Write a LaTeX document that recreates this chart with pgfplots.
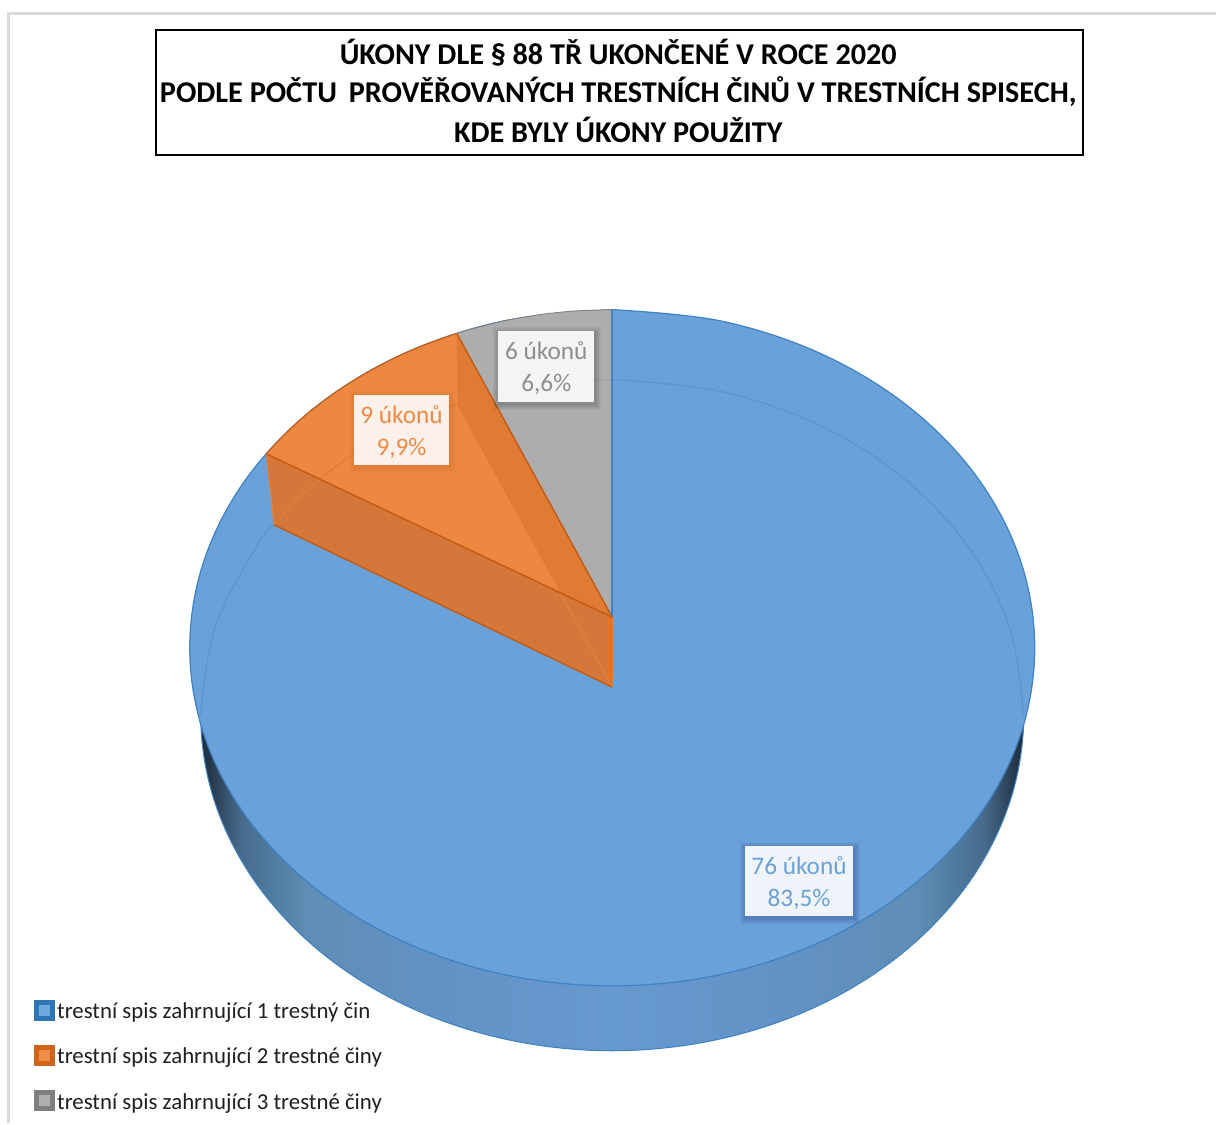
\documentclass[border=0pt]{standalone}
\usepackage{pgfplots}
\pgfplotsset{compat=1.18}
\usepackage{fontspec}
\setmainfont{Carlito}
\definecolor{bluetop}{HTML}{6AA1D8}
\definecolor{blueedge}{HTML}{3F83C4}
\definecolor{bluefaint}{HTML}{5B96D2}
\definecolor{orbright}{HTML}{EC8842}
\definecolor{orright}{HTML}{DF7B33}
\definecolor{orleft}{HTML}{D4773A}
\definecolor{oredge}{HTML}{C55A11}
\definecolor{orfaint}{HTML}{E08238}
\definecolor{graytop}{HTML}{ADADAD}
\definecolor{sa}{HTML}{1A2A3A}\definecolor{sb}{HTML}{2B4055}\definecolor{sc}{HTML}{47698A}
\definecolor{sd}{HTML}{4F7BA0}\definecolor{se}{HTML}{5F8DB5}\definecolor{sf}{HTML}{6393C6}\definecolor{sg}{HTML}{6699CF}
\definecolor{lblue}{HTML}{6BA1D7}\definecolor{lblueb}{HTML}{EFF4FB}
\definecolor{lor}{HTML}{EE8A45}\definecolor{lorb}{HTML}{FCF1EA}
\definecolor{lgr}{HTML}{8E8E8E}\definecolor{lgrb}{HTML}{F4F4F4}
\definecolor{mb}{HTML}{2E75B6}\definecolor{mbi}{HTML}{6FA8DC}
\definecolor{mo}{HTML}{D0651A}\definecolor{moi}{HTML}{F08C45}
\definecolor{mg}{HTML}{7F7F7F}\definecolor{mgi}{HTML}{B0B0B0}
\pgfdeclarehorizontalshading{pieside}{100bp}{
 color(0bp)=(sa); color(25bp)=(sa); color(25.85bp)=(sb); color(27.35bp)=(sc);
 color(29.25bp)=(sd); color(31.5bp)=(se); color(40bp)=(sf); color(50bp)=(sg);
 color(60bp)=(sf); color(68.5bp)=(se); color(70.75bp)=(sd); color(72.65bp)=(sc);
 color(74.15bp)=(sb); color(75bp)=(sa); color(100bp)=(sa)}
\newcommand{\softlayer}[6]{\path[fill=#5, fill opacity=0.035]
   (axis cs:#1-#6+1,#2-#6+2) rectangle (axis cs:#3+#6+1,#4+#6+2);}
\newcommand{\softshadow}[5]{%
 \softlayer{#1}{#2}{#3}{#4}{#5}{1}\softlayer{#1}{#2}{#3}{#4}{#5}{2}%
 \softlayer{#1}{#2}{#3}{#4}{#5}{3}\softlayer{#1}{#2}{#3}{#4}{#5}{4}%
 \softlayer{#1}{#2}{#3}{#4}{#5}{5}\softlayer{#1}{#2}{#3}{#4}{#5}{6}}
\tikzset{
 titleline/.style={font=\fontsize{8.6}{9}\selectfont\bfseries, text=black, inner sep=0pt, anchor=base},
 dlabel/.style={font=\fontsize{7.2}{9.1}\selectfont, align=center, inner sep=0pt, anchor=center},
 legtext/.style={font=\fontsize{6.5}{7}\selectfont, text=black!88, inner sep=0pt, anchor=base west}
}
\begin{document}
\begin{tikzpicture}
\begin{axis}[
  scale only axis, width=12.17cm, height=11.24cm,
  xmin=0, xmax=1217, ymin=0, ymax=1124, y dir=reverse,
  hide axis, clip=false]
% page background and frame
\addplot[draw=none, fill=white] coordinates {(0,0)(1217,0)(1217,1124)(0,1124)} -- cycle;
\addplot[draw=black!15, line width=0.85pt] coordinates {(9,1124)(9,14)(1217,14)};
% side of the pie (lower rim)
\addplot[smooth, tension=0.6, shading=pieside, draw=blueedge, line width=0.3pt] coordinates {
(613,380)(719.6,391.5)(819,425)(904.3,478.4)(969.8,548)(1011,629)(1025,716)(1011,803)(969.8,884)(904.3,953.6)(819,1007)(719.6,1040.5)(613,1052)(506.4,1040.5)(407,1007)(321.7,953.6)(256.2,884)(215,803)(201,716)(215,629)(256.2,548)(321.7,478.4)(407,425)(506.4,391.5)(613,380)};
% top face: first category, 76 ukonu
\addplot[smooth, tension=0.6, fill=bluetop, draw=blueedge, line width=0.35pt] coordinates {
(613,310)(722.5,321.5)(824.5,355.3)(912.1,409.1)(979.3,479.2)(1021.6,560.9)(1036,648.5)(1021.6,736.1)(979.3,817.8)(912.1,887.9)(824.5,941.7)(722.5,975.5)(613,987)(503.5,975.5)(401.5,941.7)(313.9,887.9)(246.7,817.8)(204.4,736.1)(190,648.5)(204.4,560.9)(246.7,479.2)(313.9,409.1)(401.5,355.3)(503.5,321.5)(613,310)};
% faint rim seen through the top face
\addplot[smooth, tension=0.6, draw=bluefaint, line width=0.35pt] coordinates {
(613,380)(719.6,391.5)(819,425)(904.3,478.4)(969.8,548)(1011,629)(1025,716)};
\addplot[smooth, tension=0.6, draw=bluefaint, line width=0.35pt] coordinates {
(274.5,525)(256.2,548)(215,629)(201,716)};
% third category, 6 ukonu
\addplot[fill=graytop, draw=none] coordinates {
(613,310)(576.1,311.3)(539.6,315.1)(503.5,321.5)(468.3,330.4)(457.3,333.8)(613,618)} -- cycle;
\addplot[smooth, draw=black!50, line width=0.25pt] coordinates {(613,310)(576.1,311.3)(539.6,315.1)(503.5,321.5)(468.3,330.4)(457.3,333.8)};
\addplot[smooth, draw=black!38, line width=0.25pt] coordinates {(613,380)(560,383)(506.4,391.5)(460,404)};
% second category, 9 ukonu
\addplot[fill=orbright, draw=none] coordinates {
(457.3,333.8)(427.6,344.3)(401.5,355.3)(376.5,367.9)(352.6,381.8)(330,397)(308.7,413.3)(289,430.9)(266.5,454.3)(613,618)} -- cycle;
\addplot[smooth, draw=oredge, line width=0.3pt] coordinates {
(457.3,333.8)(427.6,344.3)(401.5,355.3)(376.5,367.9)(352.6,381.8)(330,397)(308.7,413.3)(289,430.9)(266.5,454.3)};
\addplot[smooth, tension=0.6, draw=orright, line width=0.3pt] coordinates {(460,404)(407,425)(348.2,458.6)(297.4,500)(274.5,525)};
% cut faces of the second category
\addplot[fill=orright, draw=none] coordinates {(457.3,333.8)(613,618)(613,688)(458,406)} -- cycle;
\addplot[fill=orleft, draw=none] coordinates {(266.5,454.3)(613,618)(613,688)(274.5,525.5)} -- cycle;
\addplot[draw=orfaint, line width=0.3pt] coordinates {(274.5,525.5)(297.4,500)(320,480)};
\addplot[draw=orfaint, line width=0.3pt] coordinates {(560,592)(613,688)};
\addplot[draw=orfaint, line width=0.3pt] coordinates {(266.5,454.3)(274.5,525.5)};
\addplot[draw=oredge, line width=0.4pt] coordinates {(457.3,333.8)(613,618)};
\addplot[draw=oredge, line width=0.4pt] coordinates {(266.5,454.3)(613,618)};
\addplot[draw=oredge, line width=0.4pt] coordinates {(274.5,525.5)(613,688)};
\addplot[draw=orright, line width=0.4pt] coordinates {(613,618)(613,688)};
\addplot[draw=blueedge, line width=0.5pt] coordinates {(613,310)(613,618)};
% data labels
\softshadow{746}{847}{854}{917}{black!70!blue}
\softshadow{354}{395}{450}{466}{oredge}
\softshadow{499}{331}{595}{402}{black}
\path[fill=lblueb] (axis cs:746,847) rectangle (axis cs:854,917);
\path[fill=lorb] (axis cs:354,395) rectangle (axis cs:450,466);
\path[fill=lgrb] (axis cs:499,331) rectangle (axis cs:595,402);
\node[dlabel, text=lblue] at (axis cs:800,884) {76 úkonů\\83,5\%};
\node[dlabel, text=lor] at (axis cs:402,433) {9 úkonů\\9,9\%};
\node[dlabel, text=lgr] at (axis cs:547,369) {6 úkonů\\6,6\%};
% title
\path[draw=black, fill=white, line width=0.6pt] (axis cs:156,30) rectangle (axis cs:1084,155);
\node[titleline] at (axis cs:619,65) {ÚKONY DLE § 88 TŘ UKONČENÉ V ROCE 2020};
\node[titleline] at (axis cs:619,103) {PODLE POČTU\, PROVĚŘOVANÝCH TRESTNÍCH ČINŮ V TRESTNÍCH SPISECH,};
\node[titleline] at (axis cs:619,143) {KDE BYLY ÚKONY POUŽITY};
% legend
\addplot[only marks, mark=square*, mark size=1mm, mark options={draw=mb, fill=mb, line join=round, line width=0.3pt}] coordinates {(45,1012)};
\addplot[only marks, mark=square*, mark size=0.5mm, mark options={draw=mbi, fill=mbi, line width=0pt}] coordinates {(45,1012)};
\addplot[only marks, mark=square*, mark size=1mm, mark options={draw=mo, fill=mo, line join=round, line width=0.3pt}] coordinates {(45,1057)};
\addplot[only marks, mark=square*, mark size=0.5mm, mark options={draw=moi, fill=moi, line width=0pt}] coordinates {(45,1057)};
\addplot[only marks, mark=square*, mark size=1mm, mark options={draw=mg, fill=mg, line join=round, line width=0.3pt}] coordinates {(45,1102)};
\addplot[only marks, mark=square*, mark size=0.5mm, mark options={draw=mgi, fill=mgi, line width=0pt}] coordinates {(45,1102)};
\node[legtext] at (axis cs:56.5,1019.5) {trestní spis zahrnující 1 trestný čin};
\node[legtext] at (axis cs:56.5,1064.5) {trestní spis zahrnující 2 trestné činy};
\node[legtext] at (axis cs:56.5,1110.5) {trestní spis zahrnující 3 trestné činy};
\end{axis}
\end{tikzpicture}
\end{document}
